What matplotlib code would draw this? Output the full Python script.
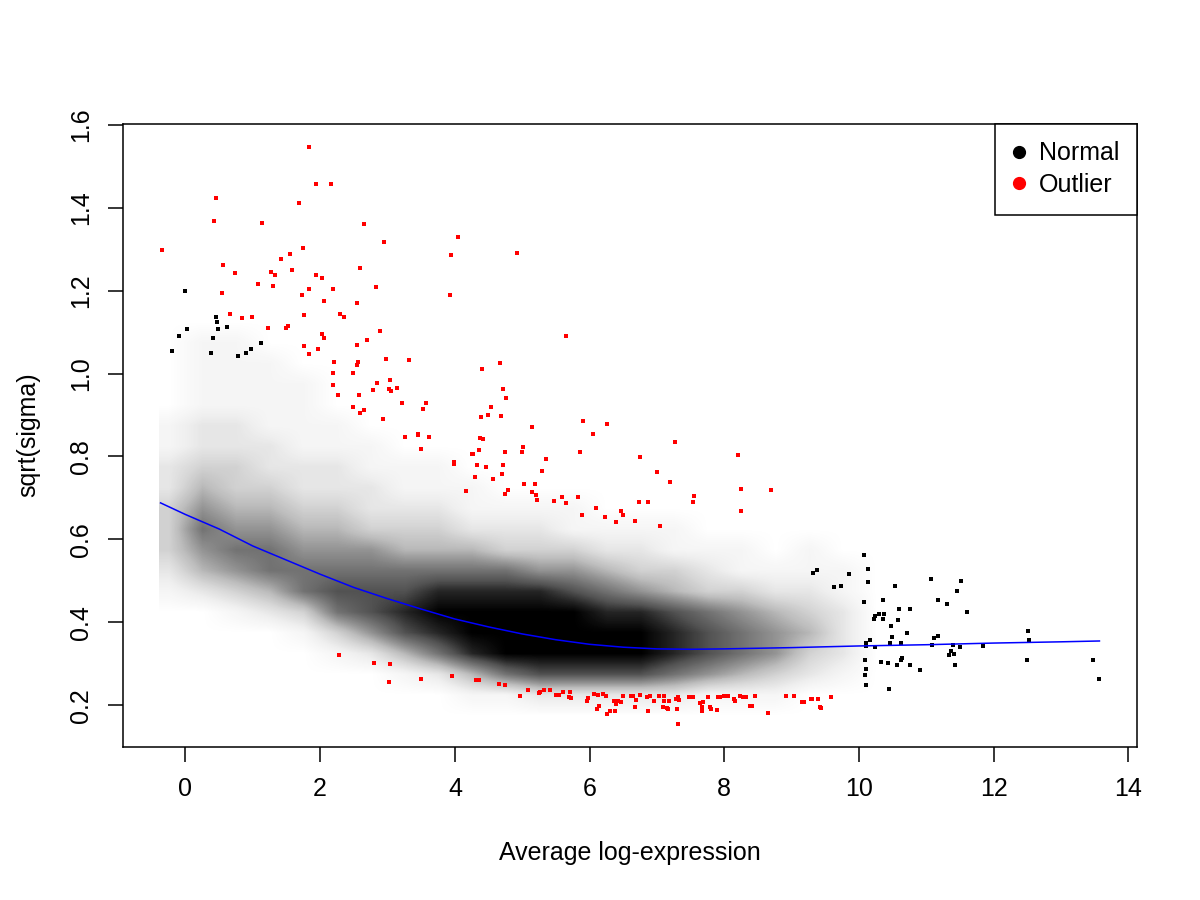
import numpy as np
import matplotlib
matplotlib.use("Agg")
import matplotlib.pyplot as plt
from matplotlib.lines import Line2D
from matplotlib.patches import Rectangle

plt.rcParams['font.family'] = ['Liberation Sans', 'DejaVu Sans']

# --- data ------------------------------------------------------------------

# dense cloud of "Normal" genes: coverage 0-9 per cell
# one string per x bin (-0.5..10 step 0.5), chars = y bins 0.15..1.25 step 0.05
cloud_x_edges = (-0.5, 10.0)
cloud_y_edges = (0.15, 1.25)
cloud_density = [
    "0000001233322110000000",  # -0.5
    "0000002456543221111000",  # 0.0
    "0000013565433221111000",  # 0.5
    "0000024665432211110000",  # 1.0
    "0000136654322111100000",  # 1.5
    "0001367654322110000000",  # 2.0
    "0002577653221100000000",  # 2.5
    "0014787643211000000000",  # 3.0
    "0026898643211000000000",  # 3.5
    "0148998642110000000000",  # 4.0
    "0169998632100000000000",  # 4.5
    "0279998532100000000000",  # 5.0
    "0279997531100000000000",  # 5.5
    "0279986421000000000000",  # 6.0
    "0279985321000000000000",  # 6.5
    "0268874311000000000000",  # 7.0
    "0157763210000000000000",  # 7.5
    "0146653110000000000000",  # 8.0
    "0135542100000000000000",  # 8.5
    "0023432110000000000000",  # 9.0
    "0012221100000000000000",  # 9.5
]
cloud_left = -0.4   # first gene on the left

# sparse "Normal" points that stand on their own
normal_x = [-0.01, 0.46, 0.03, -0.10, 0.465, 0.48, 0.61, 0.405, -0.20, 0.38,
            1.12, 0.78, 0.98, 0.90,
            9.31, 9.37, 9.85, 9.74, 9.63,
            10.08, 10.135, 10.13, 10.07, 10.36, 10.53, 11.065, 11.51, 11.456, 11.17,
            11.30, 11.61, 10.59, 10.76, 10.575, 10.37, 10.29, 10.24, 10.22, 10.35,
            10.48, 10.71, 10.49, 11.12, 11.17, 10.46, 10.63, 10.17, 10.11, 10.105,
            10.24, 11.08, 11.40, 11.50, 11.84, 12.51, 12.53, 11.36, 11.33, 11.41,
            10.64, 10.63, 10.32, 10.43, 10.56, 10.75, 10.085, 10.10, 10.095, 10.10,
            10.90, 10.45, 11.43, 12.49, 13.48, 13.57]
normal_y = [1.200, 1.137, 1.107, 1.090, 1.123, 1.108, 1.112, 1.086, 1.054, 1.049,
            1.074, 1.043, 1.060, 1.049,
            0.520, 0.527, 0.517, 0.488, 0.484,
            0.563, 0.529, 0.498, 0.449, 0.453, 0.488, 0.505, 0.500, 0.475, 0.455,
            0.443, 0.426, 0.433, 0.432, 0.406, 0.421, 0.419, 0.416, 0.409, 0.408,
            0.390, 0.375, 0.365, 0.363, 0.366, 0.351, 0.350, 0.357, 0.349, 0.343,
            0.340, 0.345, 0.346, 0.340, 0.342, 0.378, 0.358, 0.332, 0.321, 0.324,
            0.315, 0.309, 0.304, 0.301, 0.298, 0.297, 0.308, 0.288, 0.272, 0.250,
            0.284, 0.240, 0.296, 0.308, 0.309, 0.264]

# outliers (red)
outlier_x = [1.836, 1.935, 2.167, 0.45, 1.688, 0.42, 1.133, 2.657, 4.043, 2.944,
             -0.352, 3.939, 1.742, 1.554, 1.415, 0.554, 0.732, 1.267, 1.331, 1.579,
             1.935, 2.024, 2.588, 1.074, 1.306, 2.826, 1.836, 2.192, 0.539, 1.737,
             3.934, 2.053, 2.549, 0.658, 0.836, 0.984, 1.756, 2.291, 2.350, 1.232,
             1.489, 1.519, 2.885, 2.034, 2.053, 2.692, 1.762, 1.964, 1.831, 2.549,
             3.325, 2.974, 2.207, 2.558, 2.544, 2.484, 2.192, 2.192, 2.840, 3.033,
             2.781, 3.018, 3.048, 3.137, 2.261, 2.573, 3.211, 3.578, 3.528, 2.494,
             2.647, 2.588, 2.929, 3.454,
             4.929, 5.646, 4.676, 4.399, 4.711, 4.755, 4.532, 4.384, 4.488, 4.691,
             5.141, 5.898, 6.265, 6.047,
             4.380, 4.419, 7.264, 4.354, 4.265, 5.008, 5.003, 4.746, 5.859, 6.745,
             8.199, 5.349, 4.324, 4.711, 4.458, 5.290, 7.003, 4.701, 4.295, 4.562,
             7.195, 5.023, 5.191, 8.244, 8.689, 4.785, 4.740, 5.141, 5.206, 5.215,
             5.587, 5.834, 7.556, 7.532, 5.468, 5.652, 6.730, 6.863, 8.244, 6.091,
             6.462, 5.883, 6.498, 6.225, 6.670, 6.389, 7.040,
             3.262, 3.454, 3.612, 3.494, 3.993, 3.993, 4.256, 4.172,
             4.320, 4.360, 4.651, 4.746, 4.963, 5.082, 5.245, 5.270, 5.320, 5.408,
             5.508, 5.552, 5.607, 5.696, 5.730, 5.716, 5.963, 5.983, 6.072, 6.131,
             6.201, 6.246, 6.146, 6.112, 6.265, 6.310, 6.359, 6.399, 6.428, 6.463,
             6.374, 6.502, 6.611, 6.651, 6.690, 6.670, 6.750, 6.854, 6.899, 6.873,
             6.963, 7.032, 7.107, 7.086, 7.151, 7.171, 7.111, 7.186, 7.289, 7.314,
             7.334, 7.294, 7.319, 7.478, 7.537, 7.635, 7.680, 7.665, 7.670, 7.759,
             7.794, 7.799, 7.888, 7.902, 7.932, 7.992, 8.051, 8.146, 8.165, 8.229,
             8.279, 8.329, 8.377, 8.417, 8.452, 8.645, 8.917, 9.041, 9.150, 9.179,
             9.293, 9.423, 9.303, 9.387, 9.580, 9.432,
             2.276, 2.801, 3.038, 3.018, 3.503, 3.959]
outlier_y = [1.546, 1.458, 1.456, 1.423, 1.410, 1.368, 1.362, 1.360, 1.329, 1.317,
             1.299, 1.285, 1.303, 1.288, 1.277, 1.261, 1.242, 1.245, 1.238, 1.250,
             1.238, 1.231, 1.255, 1.215, 1.211, 1.209, 1.204, 1.204, 1.194, 1.190,
             1.190, 1.174, 1.170, 1.144, 1.133, 1.137, 1.141, 1.144, 1.137, 1.110,
             1.110, 1.114, 1.103, 1.096, 1.086, 1.081, 1.067, 1.060, 1.047, 1.069,
             1.033, 1.035, 1.028, 1.028, 1.021, 1.002, 1.002, 0.973, 0.977, 0.985,
             0.961, 0.963, 0.958, 0.966, 0.949, 0.948, 0.929, 0.930, 0.915, 0.919,
             0.911, 0.905, 0.891, 0.855,
             1.290, 1.091, 1.026, 1.010, 0.963, 0.941, 0.920, 0.896, 0.900, 0.898,
             0.871, 0.886, 0.879, 0.855,
             0.845, 0.843, 0.835, 0.816, 0.807, 0.823, 0.811, 0.810, 0.810, 0.799,
             0.804, 0.794, 0.780, 0.780, 0.774, 0.766, 0.762, 0.758, 0.751, 0.746,
             0.739, 0.733, 0.734, 0.722, 0.720, 0.720, 0.710, 0.715, 0.708, 0.696,
             0.703, 0.701, 0.705, 0.691, 0.693, 0.687, 0.691, 0.691, 0.669, 0.676,
             0.669, 0.659, 0.658, 0.655, 0.645, 0.643, 0.632,
             0.848, 0.851, 0.847, 0.817, 0.786, 0.781, 0.806, 0.716,
             0.260, 0.260, 0.251, 0.250, 0.222, 0.238, 0.230, 0.232, 0.238, 0.238,
             0.224, 0.224, 0.231, 0.219, 0.217, 0.231, 0.210, 0.218, 0.227, 0.224,
             0.226, 0.222, 0.198, 0.192, 0.180, 0.187, 0.210, 0.204, 0.211, 0.208,
             0.187, 0.222, 0.223, 0.223, 0.212, 0.196, 0.224, 0.221, 0.222, 0.186,
             0.210, 0.223, 0.222, 0.197, 0.193, 0.190, 0.210, 0.210, 0.216, 0.219,
             0.212, 0.192, 0.155, 0.220, 0.221, 0.206, 0.207, 0.195, 0.187, 0.221,
             0.196, 0.192, 0.188, 0.221, 0.221, 0.222, 0.222, 0.216, 0.210, 0.223,
             0.221, 0.219, 0.198, 0.199, 0.222, 0.181, 0.222, 0.222, 0.209, 0.209,
             0.215, 0.196, 0.214, 0.216, 0.219, 0.194,
             0.320, 0.302, 0.300, 0.257, 0.263, 0.270]

# fitted trend (blue)
trend_x = [-0.37, 0, 0.5, 1, 1.5, 2, 2.5, 3, 3.5, 4, 4.5, 5, 5.5, 6, 6.5, 7,
           7.5, 8, 9, 10, 11, 12, 13, 13.57]
trend_y = [0.688, 0.660, 0.625, 0.584, 0.550, 0.516, 0.484, 0.457, 0.432, 0.408,
           0.389, 0.372, 0.358, 0.347, 0.340, 0.336, 0.335, 0.336, 0.339, 0.343,
           0.346, 0.350, 0.353, 0.355]

x_ticks = [0, 2, 4, 6, 8, 10, 12, 14]
y_ticks = [0.2, 0.4, 0.6, 0.8, 1.0, 1.2, 1.4, 1.6]

# --- plot -------------------------------------------------------------------

fig = plt.figure(figsize=(12, 9), dpi=100)
ax = fig.add_axes([123 / 1200, 1 - 747 / 900, (1137 - 123) / 1200, (747 - 124) / 900])

dens = np.array([[int(c) for c in col] for col in cloud_density], dtype=float) / 9.0
# blank bin on the right and on top so the cloud fades out instead of stopping
dens = np.pad(dens, ((0, 1), (0, 1)))
dens = dens ** 1.15   # sparse specks read a bit lighter than their share
im = ax.imshow(dens.T, origin='lower', cmap='Greys', vmin=0, vmax=1,
               extent=(cloud_x_edges[0], cloud_x_edges[1] + 0.5,
                       cloud_y_edges[0], cloud_y_edges[1] + 0.05),
               interpolation='bilinear', aspect='auto', zorder=1)
im.set_clip_path(Rectangle((cloud_left, 0), 20, 5, transform=ax.transData))

ax.plot(normal_x, normal_y, 's', color='black', ms=2.4, mew=0, zorder=2)
ax.plot(outlier_x, outlier_y, 's', color='#ff0000', ms=2.4, mew=0, zorder=3)
ax.plot(trend_x, trend_y, '-', color='#0000ff', lw=1.1, zorder=4)

# R-style 4% padding around the data
all_x = normal_x + outlier_x + trend_x
all_y = normal_y + outlier_y + trend_y
dx = (max(all_x) - min(all_x)) * 0.04
dy = (max(all_y) - min(all_y)) * 0.04
ax.set_xlim(min(all_x) - dx, max(all_x) + dx)
ax.set_ylim(min(all_y) - dy, max(all_y) + dy)

ax.set_xticks(x_ticks)
ax.set_xticklabels([str(t) for t in x_ticks])
ax.set_yticks(y_ticks)
ax.set_yticklabels(['%.1f' % t for t in y_ticks], rotation=90, va='center')
ax.tick_params(direction='out', length=10.8, width=1.1, labelsize=18, pad=11)
for s in ax.spines.values():
    s.set_linewidth(1.1)

fig.text(630 / 1200, 1 - 853 / 900, 'Average log-expression', fontsize=18,
         ha='center', va='center')
fig.text(28 / 1200, 1 - 435 / 900, 'sqrt(sigma)', fontsize=18,
         ha='center', va='center', rotation=90)

handles = [Line2D([], [], marker='o', ls='', color='black', ms=8.5),
           Line2D([], [], marker='o', ls='', color='#ff0000', ms=8.5)]
leg = ax.legend(handles, ['Normal', 'Outlier'], loc='upper right', fontsize=18,
                borderaxespad=0, fancybox=False, framealpha=1, edgecolor='black',
                handlelength=0.5, handletextpad=0.55, labelspacing=0.3,
                borderpad=0.7)
leg.get_frame().set_linewidth(1.1)

fig.savefig('out.png', dpi=100)
